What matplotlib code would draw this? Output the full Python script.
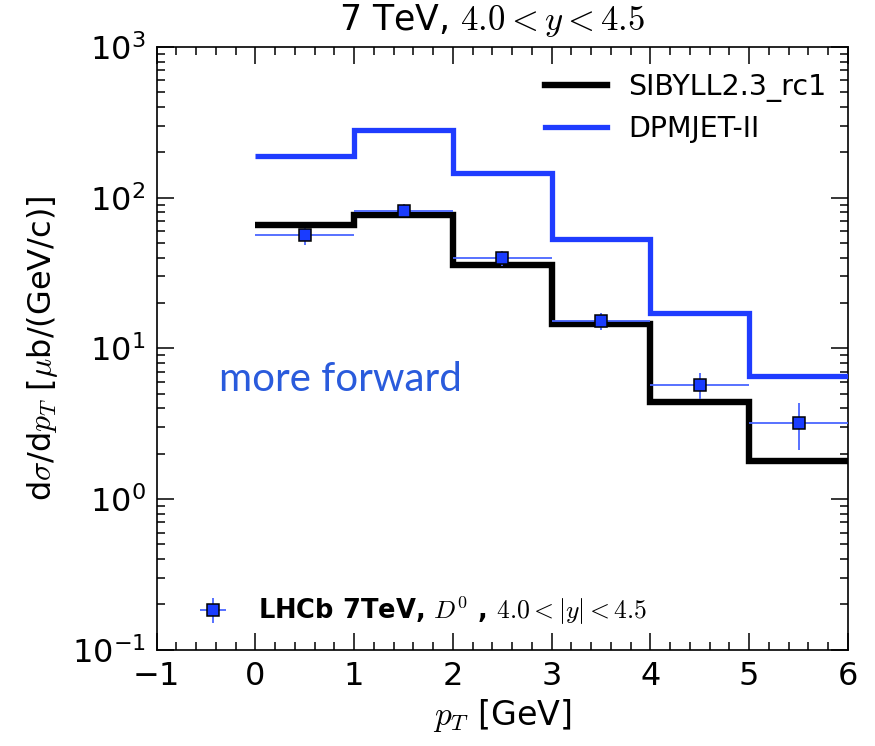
import numpy as np
import matplotlib
matplotlib.use("Agg")
import matplotlib.pyplot as plt
from matplotlib.ticker import FuncFormatter, LogLocator, MultipleLocator, NullFormatter

plt.rcParams['mathtext.fontset'] = 'cm'
plt.rcParams['font.family'] = ['DejaVu Sans']

# Data
bin_edges = [0, 1, 2, 3, 4, 5, 6]
sibyll = [66, 77, 36, 14.6, 4.4, 1.8]
dpmjet = [190, 282, 146, 53, 17.3, 6.6]
lhcb_pt = [0.5, 1.5, 2.5, 3.5, 4.5, 5.5]
lhcb_val = [56.6, 81.7, 39.5, 15.3, 5.7, 3.18]
lhcb_err_lo = [7.7, 7.0, 4.5, 2.15, 1.1, 1.07]
lhcb_err_hi = [6.4, 9.3, 5.1, 2.0, 1.12, 1.15]
lhcb_xerr = [0.5] * 6

fig = plt.figure(figsize=(8.75, 7.46), dpi=100)
ax = fig.add_axes([0.179, 0.129, 0.79, 0.808])

l1 = ax.stairs(sibyll, bin_edges, baseline=None, color='black', lw=4.6, label='SIBYLL2.3_rc1', zorder=3)
l2 = ax.stairs(dpmjet, bin_edges, baseline=None, color='#1f3cff', lw=3.8, label='DPMJET-II', zorder=3)

eb = ax.errorbar(lhcb_pt, lhcb_val, xerr=lhcb_xerr, yerr=[lhcb_err_lo, lhcb_err_hi],
                 fmt='s', color='#4a66ff', ecolor='#4a66ff', elinewidth=1.3, capsize=0,
                 markerfacecolor='#1a3cff', markeredgecolor='black', markeredgewidth=1.1,
                 markersize=8, zorder=4,
                 label=r'LHCb 7TeV, $D^0$ , $4.0<|y|<4.5$')

ax.set_yscale('log')
ax.set_xlim(-1, 6)
ax.set_ylim(0.1, 1000)

ax.xaxis.set_major_locator(MultipleLocator(1))
ax.xaxis.set_minor_locator(MultipleLocator(0.2))
ax.yaxis.set_major_locator(LogLocator(base=10, numticks=10))
ax.yaxis.set_minor_locator(LogLocator(base=10, subs=np.arange(2, 10), numticks=20))
ax.yaxis.set_minor_formatter(NullFormatter())

def logfmt(v, pos):
    e = int(round(np.log10(v)))
    return r'$\mathregular{10^{%d}}$' % e
ax.yaxis.set_major_formatter(FuncFormatter(logfmt))
ax.xaxis.set_major_formatter(FuncFormatter(lambda v, p: ('\u2212%d' % abs(v)) if v < 0 else '%d' % v))

ax.tick_params(which='both', direction='in', top=True, right=True, labelsize=23)
ax.tick_params(which='major', length=12, width=1.1)
ax.tick_params(which='minor', length=6, width=1.1)
ax.tick_params(axis='x', which='major', pad=8)
ax.tick_params(axis='y', which='major', pad=8)
for s in ax.spines.values():
    s.set_linewidth(1.2)

ax.set_xlabel(r'$p_T$ [GeV]', fontsize=24, labelpad=4)
ax.set_ylabel(r'd$\sigma$/d$p_T$ [$\mu$b/(GeV/c)]', fontsize=23, labelpad=8)
fig.text(0.562, 0.972, r'7 TeV, $4.0<y<4.5$', fontsize=25, ha='center', va='center')

leg1 = ax.legend(handles=[l1, l2], loc='upper right', frameon=False, fontsize=20.5,
                 handlelength=2.2, handletextpad=0.75, borderaxespad=0, labelspacing=0.45,
                 bbox_to_anchor=(0.986, 0.975))
ax.add_artist(leg1)
leg2 = ax.legend(handles=[eb], loc='lower left', frameon=False,
                 prop={'size': 18.5, 'weight': 'bold'}, handlelength=1.15, handletextpad=1.2,
                 borderaxespad=0, bbox_to_anchor=(0.045, 0.02))

ax.text(-0.37, 6.2, 'more forward', color='#2a5bdc', fontsize=29,
        family=['Lato', 'DejaVu Sans'], va='center', ha='left')

fig.savefig('out.png', dpi=100)
